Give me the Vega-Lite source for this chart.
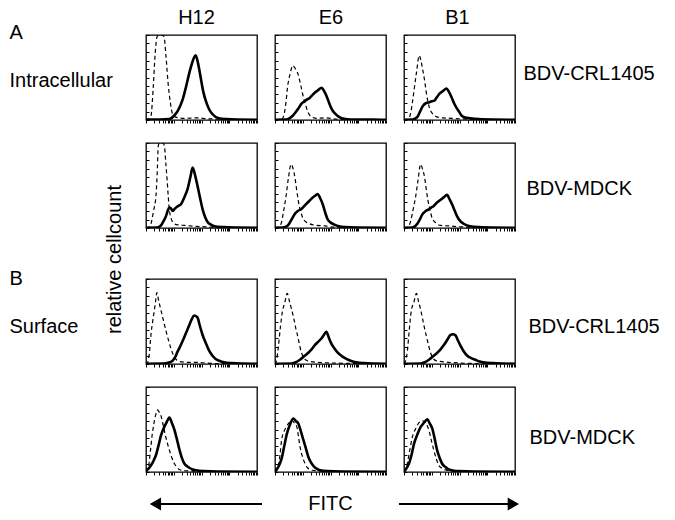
{
"$schema": "https://vega.github.io/schema/vega-lite/v6.json",
"background": "white",
"padding": {"left": 8, "top": 6, "right": 5, "bottom": 5},
"datasets": {"h": [
{"p":"a1","k":"c","x":0,"y":0},{"p":"a1","k":"c","x":0.1,"y":0.01},{"p":"a1","k":"c","x":0.18,"y":0.05},{"p":"a1","k":"c","x":0.26,"y":0.38},{"p":"a1","k":"c","x":0.33,"y":0.78},{"p":"a1","k":"c","x":0.4,"y":0.98},{"p":"a1","k":"c","x":0.45,"y":1},{"p":"a1","k":"c","x":0.55,"y":1},{"p":"a1","k":"c","x":0.65,"y":0.98},{"p":"a1","k":"c","x":0.72,"y":0.75},{"p":"a1","k":"c","x":0.8,"y":0.42},{"p":"a1","k":"c","x":0.88,"y":0.2},{"p":"a1","k":"c","x":0.96,"y":0.07},{"p":"a1","k":"c","x":1.1,"y":0.03},{"p":"a1","k":"c","x":1.4,"y":0.02},{"p":"a1","k":"c","x":1.8,"y":0.025},{"p":"a1","k":"c","x":2.2,"y":0.015},{"p":"a1","k":"c","x":2.6,"y":0.01},{"p":"a1","k":"c","x":3,"y":0.005},{"p":"a1","k":"c","x":4,"y":0.003},
{"p":"a1","k":"s","x":0,"y":0.005},{"p":"a1","k":"s","x":0.5,"y":0.005},{"p":"a1","k":"s","x":0.84,"y":0.01},{"p":"a1","k":"s","x":1.01,"y":0.05},{"p":"a1","k":"s","x":1.15,"y":0.11},{"p":"a1","k":"s","x":1.31,"y":0.23},{"p":"a1","k":"s","x":1.45,"y":0.4},{"p":"a1","k":"s","x":1.55,"y":0.54},{"p":"a1","k":"s","x":1.67,"y":0.68},{"p":"a1","k":"s","x":1.79,"y":0.76},{"p":"a1","k":"s","x":1.88,"y":0.66},{"p":"a1","k":"s","x":1.97,"y":0.5},{"p":"a1","k":"s","x":2.06,"y":0.34},{"p":"a1","k":"s","x":2.15,"y":0.23},{"p":"a1","k":"s","x":2.27,"y":0.13},{"p":"a1","k":"s","x":2.39,"y":0.07},{"p":"a1","k":"s","x":2.63,"y":0.02},{"p":"a1","k":"s","x":2.9,"y":0.01},{"p":"a1","k":"s","x":3.3,"y":0.005},{"p":"a1","k":"s","x":4,"y":0.003},
{"p":"a2","k":"c","x":0,"y":0},{"p":"a2","k":"c","x":0.25,"y":0.01},{"p":"a2","k":"c","x":0.33,"y":0.07},{"p":"a2","k":"c","x":0.4,"y":0.22},{"p":"a2","k":"c","x":0.45,"y":0.38},{"p":"a2","k":"c","x":0.55,"y":0.55},{"p":"a2","k":"c","x":0.64,"y":0.64},{"p":"a2","k":"c","x":0.74,"y":0.6},{"p":"a2","k":"c","x":0.83,"y":0.54},{"p":"a2","k":"c","x":0.92,"y":0.42},{"p":"a2","k":"c","x":1,"y":0.3},{"p":"a2","k":"c","x":1.1,"y":0.18},{"p":"a2","k":"c","x":1.19,"y":0.09},{"p":"a2","k":"c","x":1.3,"y":0.04},{"p":"a2","k":"c","x":1.5,"y":0.02},{"p":"a2","k":"c","x":1.8,"y":0.025},{"p":"a2","k":"c","x":2.2,"y":0.01},{"p":"a2","k":"c","x":2.6,"y":0.005},{"p":"a2","k":"c","x":4,"y":0.002},
{"p":"a2","k":"s","x":0,"y":0.003},{"p":"a2","k":"s","x":0.39,"y":0.005},{"p":"a2","k":"s","x":0.52,"y":0.02},{"p":"a2","k":"s","x":0.64,"y":0.05},{"p":"a2","k":"s","x":0.83,"y":0.13},{"p":"a2","k":"s","x":0.95,"y":0.19},{"p":"a2","k":"s","x":1.06,"y":0.22},{"p":"a2","k":"s","x":1.15,"y":0.24},{"p":"a2","k":"s","x":1.25,"y":0.26},{"p":"a2","k":"s","x":1.34,"y":0.29},{"p":"a2","k":"s","x":1.43,"y":0.32},{"p":"a2","k":"s","x":1.55,"y":0.35},{"p":"a2","k":"s","x":1.68,"y":0.38},{"p":"a2","k":"s","x":1.77,"y":0.34},{"p":"a2","k":"s","x":1.86,"y":0.28},{"p":"a2","k":"s","x":1.95,"y":0.2},{"p":"a2","k":"s","x":2.04,"y":0.13},{"p":"a2","k":"s","x":2.15,"y":0.08},{"p":"a2","k":"s","x":2.29,"y":0.04},{"p":"a2","k":"s","x":2.54,"y":0.012},{"p":"a2","k":"s","x":2.9,"y":0.005},{"p":"a2","k":"s","x":3.5,"y":0.004},{"p":"a2","k":"s","x":4,"y":0.003},
{"p":"a3","k":"c","x":0,"y":0},{"p":"a3","k":"c","x":0.15,"y":0.01},{"p":"a3","k":"c","x":0.24,"y":0.08},{"p":"a3","k":"c","x":0.3,"y":0.2},{"p":"a3","k":"c","x":0.37,"y":0.37},{"p":"a3","k":"c","x":0.45,"y":0.56},{"p":"a3","k":"c","x":0.55,"y":0.76},{"p":"a3","k":"c","x":0.61,"y":0.7},{"p":"a3","k":"c","x":0.67,"y":0.6},{"p":"a3","k":"c","x":0.74,"y":0.47},{"p":"a3","k":"c","x":0.8,"y":0.33},{"p":"a3","k":"c","x":0.86,"y":0.22},{"p":"a3","k":"c","x":0.92,"y":0.14},{"p":"a3","k":"c","x":1.04,"y":0.07},{"p":"a3","k":"c","x":1.16,"y":0.04},{"p":"a3","k":"c","x":1.4,"y":0.025},{"p":"a3","k":"c","x":1.7,"y":0.02},{"p":"a3","k":"c","x":2,"y":0.015},{"p":"a3","k":"c","x":2.4,"y":0.008},{"p":"a3","k":"c","x":4,"y":0.002},
{"p":"a3","k":"s","x":0,"y":0.003},{"p":"a3","k":"s","x":0.31,"y":0.005},{"p":"a3","k":"s","x":0.49,"y":0.04},{"p":"a3","k":"s","x":0.58,"y":0.1},{"p":"a3","k":"s","x":0.67,"y":0.16},{"p":"a3","k":"s","x":0.8,"y":0.2},{"p":"a3","k":"s","x":0.92,"y":0.21},{"p":"a3","k":"s","x":1.01,"y":0.22},{"p":"a3","k":"s","x":1.1,"y":0.23},{"p":"a3","k":"s","x":1.19,"y":0.27},{"p":"a3","k":"s","x":1.28,"y":0.31},{"p":"a3","k":"s","x":1.4,"y":0.34},{"p":"a3","k":"s","x":1.53,"y":0.37},{"p":"a3","k":"s","x":1.62,"y":0.33},{"p":"a3","k":"s","x":1.71,"y":0.27},{"p":"a3","k":"s","x":1.8,"y":0.2},{"p":"a3","k":"s","x":1.9,"y":0.14},{"p":"a3","k":"s","x":2,"y":0.09},{"p":"a3","k":"s","x":2.08,"y":0.05},{"p":"a3","k":"s","x":2.2,"y":0.03},{"p":"a3","k":"s","x":2.39,"y":0.02},{"p":"a3","k":"s","x":2.7,"y":0.01},{"p":"a3","k":"s","x":3.2,"y":0.005},{"p":"a3","k":"s","x":4,"y":0.003},
{"p":"b1","k":"c","x":0,"y":0},{"p":"b1","k":"c","x":0.1,"y":0.01},{"p":"b1","k":"c","x":0.18,"y":0.05},{"p":"b1","k":"c","x":0.27,"y":0.2},{"p":"b1","k":"c","x":0.36,"y":0.38},{"p":"b1","k":"c","x":0.41,"y":0.7},{"p":"b1","k":"c","x":0.44,"y":0.96},{"p":"b1","k":"c","x":0.48,"y":1},{"p":"b1","k":"c","x":0.6,"y":1},{"p":"b1","k":"c","x":0.66,"y":0.97},{"p":"b1","k":"c","x":0.71,"y":0.78},{"p":"b1","k":"c","x":0.76,"y":0.57},{"p":"b1","k":"c","x":0.8,"y":0.38},{"p":"b1","k":"c","x":0.84,"y":0.22},{"p":"b1","k":"c","x":0.9,"y":0.12},{"p":"b1","k":"c","x":0.96,"y":0.07},{"p":"b1","k":"c","x":1.1,"y":0.04},{"p":"b1","k":"c","x":1.4,"y":0.03},{"p":"b1","k":"c","x":1.8,"y":0.02},{"p":"b1","k":"c","x":2.2,"y":0.012},{"p":"b1","k":"c","x":2.6,"y":0.006},{"p":"b1","k":"c","x":4,"y":0.002},
{"p":"b1","k":"s","x":0,"y":0.003},{"p":"b1","k":"s","x":0.4,"y":0.005},{"p":"b1","k":"s","x":0.54,"y":0.03},{"p":"b1","k":"s","x":0.63,"y":0.08},{"p":"b1","k":"s","x":0.72,"y":0.14},{"p":"b1","k":"s","x":0.78,"y":0.2},{"p":"b1","k":"s","x":0.84,"y":0.24},{"p":"b1","k":"s","x":0.9,"y":0.23},{"p":"b1","k":"s","x":0.96,"y":0.2},{"p":"b1","k":"s","x":1.02,"y":0.22},{"p":"b1","k":"s","x":1.08,"y":0.24},{"p":"b1","k":"s","x":1.17,"y":0.26},{"p":"b1","k":"s","x":1.26,"y":0.28},{"p":"b1","k":"s","x":1.38,"y":0.36},{"p":"b1","k":"s","x":1.5,"y":0.46},{"p":"b1","k":"s","x":1.6,"y":0.6},{"p":"b1","k":"s","x":1.68,"y":0.71},{"p":"b1","k":"s","x":1.77,"y":0.62},{"p":"b1","k":"s","x":1.86,"y":0.49},{"p":"b1","k":"s","x":1.95,"y":0.35},{"p":"b1","k":"s","x":2.04,"y":0.22},{"p":"b1","k":"s","x":2.13,"y":0.13},{"p":"b1","k":"s","x":2.22,"y":0.07},{"p":"b1","k":"s","x":2.34,"y":0.04},{"p":"b1","k":"s","x":2.46,"y":0.02},{"p":"b1","k":"s","x":2.8,"y":0.01},{"p":"b1","k":"s","x":3.3,"y":0.005},{"p":"b1","k":"s","x":4,"y":0.003},
{"p":"b2","k":"c","x":0,"y":0},{"p":"b2","k":"c","x":0.12,"y":0.01},{"p":"b2","k":"c","x":0.22,"y":0.05},{"p":"b2","k":"c","x":0.3,"y":0.18},{"p":"b2","k":"c","x":0.4,"y":0.38},{"p":"b2","k":"c","x":0.48,"y":0.58},{"p":"b2","k":"c","x":0.58,"y":0.75},{"p":"b2","k":"c","x":0.65,"y":0.7},{"p":"b2","k":"c","x":0.72,"y":0.59},{"p":"b2","k":"c","x":0.78,"y":0.45},{"p":"b2","k":"c","x":0.84,"y":0.32},{"p":"b2","k":"c","x":0.92,"y":0.2},{"p":"b2","k":"c","x":1,"y":0.12},{"p":"b2","k":"c","x":1.12,"y":0.07},{"p":"b2","k":"c","x":1.24,"y":0.05},{"p":"b2","k":"c","x":1.5,"y":0.03},{"p":"b2","k":"c","x":1.8,"y":0.025},{"p":"b2","k":"c","x":2.1,"y":0.01},{"p":"b2","k":"c","x":2.6,"y":0.005},{"p":"b2","k":"c","x":4,"y":0.002},
{"p":"b2","k":"s","x":0,"y":0.003},{"p":"b2","k":"s","x":0.28,"y":0.005},{"p":"b2","k":"s","x":0.46,"y":0.03},{"p":"b2","k":"s","x":0.58,"y":0.09},{"p":"b2","k":"s","x":0.7,"y":0.16},{"p":"b2","k":"s","x":0.82,"y":0.2},{"p":"b2","k":"s","x":0.94,"y":0.22},{"p":"b2","k":"s","x":1.06,"y":0.26},{"p":"b2","k":"s","x":1.18,"y":0.3},{"p":"b2","k":"s","x":1.27,"y":0.33},{"p":"b2","k":"s","x":1.36,"y":0.36},{"p":"b2","k":"s","x":1.45,"y":0.38},{"p":"b2","k":"s","x":1.54,"y":0.4},{"p":"b2","k":"s","x":1.63,"y":0.35},{"p":"b2","k":"s","x":1.72,"y":0.28},{"p":"b2","k":"s","x":1.81,"y":0.18},{"p":"b2","k":"s","x":1.9,"y":0.1},{"p":"b2","k":"s","x":2.02,"y":0.06},{"p":"b2","k":"s","x":2.14,"y":0.04},{"p":"b2","k":"s","x":2.3,"y":0.02},{"p":"b2","k":"s","x":2.5,"y":0.01},{"p":"b2","k":"s","x":3,"y":0.005},{"p":"b2","k":"s","x":4,"y":0.003},
{"p":"b3","k":"c","x":0,"y":0},{"p":"b3","k":"c","x":0.14,"y":0.01},{"p":"b3","k":"c","x":0.24,"y":0.08},{"p":"b3","k":"c","x":0.33,"y":0.22},{"p":"b3","k":"c","x":0.42,"y":0.37},{"p":"b3","k":"c","x":0.5,"y":0.55},{"p":"b3","k":"c","x":0.6,"y":0.75},{"p":"b3","k":"c","x":0.67,"y":0.69},{"p":"b3","k":"c","x":0.74,"y":0.6},{"p":"b3","k":"c","x":0.8,"y":0.46},{"p":"b3","k":"c","x":0.86,"y":0.33},{"p":"b3","k":"c","x":0.94,"y":0.21},{"p":"b3","k":"c","x":1.01,"y":0.12},{"p":"b3","k":"c","x":1.15,"y":0.06},{"p":"b3","k":"c","x":1.31,"y":0.03},{"p":"b3","k":"c","x":1.6,"y":0.025},{"p":"b3","k":"c","x":2,"y":0.015},{"p":"b3","k":"c","x":2.4,"y":0.008},{"p":"b3","k":"c","x":4,"y":0.002},
{"p":"b3","k":"s","x":0,"y":0.003},{"p":"b3","k":"s","x":0.3,"y":0.005},{"p":"b3","k":"s","x":0.48,"y":0.05},{"p":"b3","k":"s","x":0.57,"y":0.1},{"p":"b3","k":"s","x":0.66,"y":0.16},{"p":"b3","k":"s","x":0.78,"y":0.2},{"p":"b3","k":"s","x":0.9,"y":0.22},{"p":"b3","k":"s","x":0.98,"y":0.24},{"p":"b3","k":"s","x":1.07,"y":0.26},{"p":"b3","k":"s","x":1.19,"y":0.3},{"p":"b3","k":"s","x":1.31,"y":0.33},{"p":"b3","k":"s","x":1.43,"y":0.36},{"p":"b3","k":"s","x":1.55,"y":0.39},{"p":"b3","k":"s","x":1.64,"y":0.34},{"p":"b3","k":"s","x":1.73,"y":0.28},{"p":"b3","k":"s","x":1.82,"y":0.21},{"p":"b3","k":"s","x":1.91,"y":0.14},{"p":"b3","k":"s","x":2.03,"y":0.08},{"p":"b3","k":"s","x":2.15,"y":0.05},{"p":"b3","k":"s","x":2.39,"y":0.02},{"p":"b3","k":"s","x":2.7,"y":0.01},{"p":"b3","k":"s","x":3.2,"y":0.005},{"p":"b3","k":"s","x":4,"y":0.003},
{"p":"c1","k":"c","x":0,"y":0},{"p":"c1","k":"c","x":0.06,"y":0.02},{"p":"c1","k":"c","x":0.12,"y":0.12},{"p":"c1","k":"c","x":0.18,"y":0.35},{"p":"c1","k":"c","x":0.24,"y":0.5},{"p":"c1","k":"c","x":0.3,"y":0.63},{"p":"c1","k":"c","x":0.35,"y":0.75},{"p":"c1","k":"c","x":0.39,"y":0.84},{"p":"c1","k":"c","x":0.46,"y":0.74},{"p":"c1","k":"c","x":0.54,"y":0.63},{"p":"c1","k":"c","x":0.63,"y":0.51},{"p":"c1","k":"c","x":0.72,"y":0.39},{"p":"c1","k":"c","x":0.81,"y":0.28},{"p":"c1","k":"c","x":0.9,"y":0.18},{"p":"c1","k":"c","x":0.98,"y":0.11},{"p":"c1","k":"c","x":1.07,"y":0.06},{"p":"c1","k":"c","x":1.2,"y":0.03},{"p":"c1","k":"c","x":1.5,"y":0.02},{"p":"c1","k":"c","x":1.8,"y":0.02},{"p":"c1","k":"c","x":2.2,"y":0.01},{"p":"c1","k":"c","x":2.6,"y":0.005},{"p":"c1","k":"c","x":4,"y":0.002},
{"p":"c1","k":"s","x":0,"y":0.003},{"p":"c1","k":"s","x":0.66,"y":0.005},{"p":"c1","k":"s","x":0.86,"y":0.02},{"p":"c1","k":"s","x":0.96,"y":0.04},{"p":"c1","k":"s","x":1.05,"y":0.08},{"p":"c1","k":"s","x":1.13,"y":0.14},{"p":"c1","k":"s","x":1.25,"y":0.22},{"p":"c1","k":"s","x":1.37,"y":0.31},{"p":"c1","k":"s","x":1.46,"y":0.38},{"p":"c1","k":"s","x":1.55,"y":0.45},{"p":"c1","k":"s","x":1.64,"y":0.52},{"p":"c1","k":"s","x":1.73,"y":0.57},{"p":"c1","k":"s","x":1.85,"y":0.55},{"p":"c1","k":"s","x":1.94,"y":0.45},{"p":"c1","k":"s","x":2.03,"y":0.35},{"p":"c1","k":"s","x":2.15,"y":0.25},{"p":"c1","k":"s","x":2.27,"y":0.16},{"p":"c1","k":"s","x":2.39,"y":0.1},{"p":"c1","k":"s","x":2.51,"y":0.06},{"p":"c1","k":"s","x":2.66,"y":0.035},{"p":"c1","k":"s","x":2.81,"y":0.02},{"p":"c1","k":"s","x":3.1,"y":0.01},{"p":"c1","k":"s","x":3.5,"y":0.005},{"p":"c1","k":"s","x":4,"y":0.003},
{"p":"c2","k":"c","x":0,"y":0},{"p":"c2","k":"c","x":0.06,"y":0.05},{"p":"c2","k":"c","x":0.12,"y":0.2},{"p":"c2","k":"c","x":0.2,"y":0.45},{"p":"c2","k":"c","x":0.27,"y":0.62},{"p":"c2","k":"c","x":0.35,"y":0.72},{"p":"c2","k":"c","x":0.44,"y":0.83},{"p":"c2","k":"c","x":0.52,"y":0.74},{"p":"c2","k":"c","x":0.6,"y":0.64},{"p":"c2","k":"c","x":0.68,"y":0.53},{"p":"c2","k":"c","x":0.75,"y":0.42},{"p":"c2","k":"c","x":0.83,"y":0.31},{"p":"c2","k":"c","x":0.9,"y":0.2},{"p":"c2","k":"c","x":0.97,"y":0.12},{"p":"c2","k":"c","x":1.04,"y":0.07},{"p":"c2","k":"c","x":1.15,"y":0.04},{"p":"c2","k":"c","x":1.25,"y":0.03},{"p":"c2","k":"c","x":1.5,"y":0.02},{"p":"c2","k":"c","x":1.8,"y":0.015},{"p":"c2","k":"c","x":2.2,"y":0.01},{"p":"c2","k":"c","x":4,"y":0.002},
{"p":"c2","k":"s","x":0,"y":0.003},{"p":"c2","k":"s","x":0.6,"y":0.005},{"p":"c2","k":"s","x":0.75,"y":0.02},{"p":"c2","k":"s","x":0.9,"y":0.05},{"p":"c2","k":"s","x":1.05,"y":0.09},{"p":"c2","k":"s","x":1.19,"y":0.13},{"p":"c2","k":"s","x":1.31,"y":0.17},{"p":"c2","k":"s","x":1.43,"y":0.22},{"p":"c2","k":"s","x":1.55,"y":0.26},{"p":"c2","k":"s","x":1.67,"y":0.3},{"p":"c2","k":"s","x":1.76,"y":0.34},{"p":"c2","k":"s","x":1.85,"y":0.38},{"p":"c2","k":"s","x":1.94,"y":0.31},{"p":"c2","k":"s","x":2.03,"y":0.24},{"p":"c2","k":"s","x":2.15,"y":0.18},{"p":"c2","k":"s","x":2.27,"y":0.13},{"p":"c2","k":"s","x":2.42,"y":0.09},{"p":"c2","k":"s","x":2.57,"y":0.06},{"p":"c2","k":"s","x":2.75,"y":0.035},{"p":"c2","k":"s","x":2.93,"y":0.02},{"p":"c2","k":"s","x":3.2,"y":0.01},{"p":"c2","k":"s","x":3.6,"y":0.005},{"p":"c2","k":"s","x":4,"y":0.003},
{"p":"c3","k":"c","x":0,"y":0},{"p":"c3","k":"c","x":0.06,"y":0.04},{"p":"c3","k":"c","x":0.12,"y":0.15},{"p":"c3","k":"c","x":0.19,"y":0.4},{"p":"c3","k":"c","x":0.26,"y":0.62},{"p":"c3","k":"c","x":0.35,"y":0.72},{"p":"c3","k":"c","x":0.45,"y":0.83},{"p":"c3","k":"c","x":0.52,"y":0.74},{"p":"c3","k":"c","x":0.6,"y":0.64},{"p":"c3","k":"c","x":0.67,"y":0.53},{"p":"c3","k":"c","x":0.74,"y":0.42},{"p":"c3","k":"c","x":0.82,"y":0.31},{"p":"c3","k":"c","x":0.9,"y":0.2},{"p":"c3","k":"c","x":0.97,"y":0.12},{"p":"c3","k":"c","x":1.04,"y":0.07},{"p":"c3","k":"c","x":1.15,"y":0.04},{"p":"c3","k":"c","x":1.3,"y":0.03},{"p":"c3","k":"c","x":1.6,"y":0.02},{"p":"c3","k":"c","x":2,"y":0.012},{"p":"c3","k":"c","x":2.5,"y":0.006},{"p":"c3","k":"c","x":4,"y":0.002},
{"p":"c3","k":"s","x":0,"y":0.003},{"p":"c3","k":"s","x":0.6,"y":0.005},{"p":"c3","k":"s","x":0.75,"y":0.02},{"p":"c3","k":"s","x":0.9,"y":0.05},{"p":"c3","k":"s","x":1.05,"y":0.09},{"p":"c3","k":"s","x":1.19,"y":0.13},{"p":"c3","k":"s","x":1.31,"y":0.17},{"p":"c3","k":"s","x":1.43,"y":0.22},{"p":"c3","k":"s","x":1.55,"y":0.28},{"p":"c3","k":"s","x":1.67,"y":0.34},{"p":"c3","k":"s","x":1.76,"y":0.35},{"p":"c3","k":"s","x":1.85,"y":0.34},{"p":"c3","k":"s","x":1.94,"y":0.28},{"p":"c3","k":"s","x":2.03,"y":0.22},{"p":"c3","k":"s","x":2.15,"y":0.15},{"p":"c3","k":"s","x":2.27,"y":0.1},{"p":"c3","k":"s","x":2.42,"y":0.07},{"p":"c3","k":"s","x":2.57,"y":0.05},{"p":"c3","k":"s","x":2.72,"y":0.03},{"p":"c3","k":"s","x":2.87,"y":0.02},{"p":"c3","k":"s","x":3.2,"y":0.01},{"p":"c3","k":"s","x":3.6,"y":0.005},{"p":"c3","k":"s","x":4,"y":0.003},
{"p":"d1","k":"c","x":0,"y":0},{"p":"d1","k":"c","x":0.05,"y":0.02},{"p":"d1","k":"c","x":0.1,"y":0.08},{"p":"d1","k":"c","x":0.16,"y":0.25},{"p":"d1","k":"c","x":0.22,"y":0.43},{"p":"d1","k":"c","x":0.28,"y":0.56},{"p":"d1","k":"c","x":0.34,"y":0.66},{"p":"d1","k":"c","x":0.42,"y":0.73},{"p":"d1","k":"c","x":0.48,"y":0.7},{"p":"d1","k":"c","x":0.54,"y":0.66},{"p":"d1","k":"c","x":0.62,"y":0.55},{"p":"d1","k":"c","x":0.7,"y":0.43},{"p":"d1","k":"c","x":0.77,"y":0.34},{"p":"d1","k":"c","x":0.84,"y":0.26},{"p":"d1","k":"c","x":0.93,"y":0.17},{"p":"d1","k":"c","x":1.02,"y":0.1},{"p":"d1","k":"c","x":1.11,"y":0.06},{"p":"d1","k":"c","x":1.2,"y":0.03},{"p":"d1","k":"c","x":1.4,"y":0.015},{"p":"d1","k":"c","x":1.8,"y":0.01},{"p":"d1","k":"c","x":2.5,"y":0.005},{"p":"d1","k":"c","x":4,"y":0.002},
{"p":"d1","k":"s","x":0,"y":0.005},{"p":"d1","k":"s","x":0.06,"y":0.03},{"p":"d1","k":"s","x":0.12,"y":0.05},{"p":"d1","k":"s","x":0.18,"y":0.08},{"p":"d1","k":"s","x":0.27,"y":0.13},{"p":"d1","k":"s","x":0.36,"y":0.2},{"p":"d1","k":"s","x":0.45,"y":0.31},{"p":"d1","k":"s","x":0.54,"y":0.43},{"p":"d1","k":"s","x":0.63,"y":0.51},{"p":"d1","k":"s","x":0.72,"y":0.57},{"p":"d1","k":"s","x":0.78,"y":0.61},{"p":"d1","k":"s","x":0.84,"y":0.64},{"p":"d1","k":"s","x":0.93,"y":0.58},{"p":"d1","k":"s","x":1.02,"y":0.5},{"p":"d1","k":"s","x":1.11,"y":0.39},{"p":"d1","k":"s","x":1.2,"y":0.27},{"p":"d1","k":"s","x":1.29,"y":0.17},{"p":"d1","k":"s","x":1.38,"y":0.1},{"p":"d1","k":"s","x":1.47,"y":0.07},{"p":"d1","k":"s","x":1.56,"y":0.05},{"p":"d1","k":"s","x":1.68,"y":0.03},{"p":"d1","k":"s","x":1.8,"y":0.02},{"p":"d1","k":"s","x":2.1,"y":0.01},{"p":"d1","k":"s","x":2.6,"y":0.005},{"p":"d1","k":"s","x":4,"y":0.003},
{"p":"d2","k":"c","x":0,"y":0},{"p":"d2","k":"c","x":0.06,"y":0.02},{"p":"d2","k":"c","x":0.12,"y":0.07},{"p":"d2","k":"c","x":0.18,"y":0.2},{"p":"d2","k":"c","x":0.24,"y":0.38},{"p":"d2","k":"c","x":0.33,"y":0.48},{"p":"d2","k":"c","x":0.42,"y":0.54},{"p":"d2","k":"c","x":0.51,"y":0.58},{"p":"d2","k":"c","x":0.6,"y":0.61},{"p":"d2","k":"c","x":0.69,"y":0.58},{"p":"d2","k":"c","x":0.78,"y":0.54},{"p":"d2","k":"c","x":0.84,"y":0.43},{"p":"d2","k":"c","x":0.9,"y":0.3},{"p":"d2","k":"c","x":0.99,"y":0.18},{"p":"d2","k":"c","x":1.08,"y":0.1},{"p":"d2","k":"c","x":1.17,"y":0.05},{"p":"d2","k":"c","x":1.27,"y":0.03},{"p":"d2","k":"c","x":1.5,"y":0.015},{"p":"d2","k":"c","x":2,"y":0.008},{"p":"d2","k":"c","x":4,"y":0.002},
{"p":"d2","k":"s","x":0,"y":0.005},{"p":"d2","k":"s","x":0.06,"y":0.03},{"p":"d2","k":"s","x":0.15,"y":0.08},{"p":"d2","k":"s","x":0.24,"y":0.16},{"p":"d2","k":"s","x":0.33,"y":0.3},{"p":"d2","k":"s","x":0.42,"y":0.44},{"p":"d2","k":"s","x":0.54,"y":0.56},{"p":"d2","k":"s","x":0.66,"y":0.63},{"p":"d2","k":"s","x":0.75,"y":0.6},{"p":"d2","k":"s","x":0.84,"y":0.57},{"p":"d2","k":"s","x":0.93,"y":0.48},{"p":"d2","k":"s","x":1.02,"y":0.38},{"p":"d2","k":"s","x":1.11,"y":0.28},{"p":"d2","k":"s","x":1.2,"y":0.18},{"p":"d2","k":"s","x":1.3,"y":0.11},{"p":"d2","k":"s","x":1.39,"y":0.07},{"p":"d2","k":"s","x":1.5,"y":0.04},{"p":"d2","k":"s","x":1.63,"y":0.02},{"p":"d2","k":"s","x":1.9,"y":0.01},{"p":"d2","k":"s","x":2.4,"y":0.005},{"p":"d2","k":"s","x":4,"y":0.003},
{"p":"d3","k":"c","x":0,"y":0},{"p":"d3","k":"c","x":0.06,"y":0.03},{"p":"d3","k":"c","x":0.12,"y":0.1},{"p":"d3","k":"c","x":0.21,"y":0.26},{"p":"d3","k":"c","x":0.3,"y":0.41},{"p":"d3","k":"c","x":0.42,"y":0.51},{"p":"d3","k":"c","x":0.54,"y":0.58},{"p":"d3","k":"c","x":0.63,"y":0.6},{"p":"d3","k":"c","x":0.72,"y":0.6},{"p":"d3","k":"c","x":0.81,"y":0.56},{"p":"d3","k":"c","x":0.9,"y":0.49},{"p":"d3","k":"c","x":0.98,"y":0.38},{"p":"d3","k":"c","x":1.07,"y":0.26},{"p":"d3","k":"c","x":1.16,"y":0.16},{"p":"d3","k":"c","x":1.25,"y":0.08},{"p":"d3","k":"c","x":1.34,"y":0.05},{"p":"d3","k":"c","x":1.43,"y":0.03},{"p":"d3","k":"c","x":1.7,"y":0.015},{"p":"d3","k":"c","x":2.2,"y":0.008},{"p":"d3","k":"c","x":4,"y":0.002},
{"p":"d3","k":"s","x":0,"y":0.005},{"p":"d3","k":"s","x":0.06,"y":0.03},{"p":"d3","k":"s","x":0.12,"y":0.06},{"p":"d3","k":"s","x":0.18,"y":0.1},{"p":"d3","k":"s","x":0.27,"y":0.2},{"p":"d3","k":"s","x":0.36,"y":0.33},{"p":"d3","k":"s","x":0.48,"y":0.44},{"p":"d3","k":"s","x":0.6,"y":0.53},{"p":"d3","k":"s","x":0.72,"y":0.58},{"p":"d3","k":"s","x":0.84,"y":0.62},{"p":"d3","k":"s","x":0.93,"y":0.57},{"p":"d3","k":"s","x":1.02,"y":0.51},{"p":"d3","k":"s","x":1.1,"y":0.4},{"p":"d3","k":"s","x":1.19,"y":0.26},{"p":"d3","k":"s","x":1.28,"y":0.17},{"p":"d3","k":"s","x":1.37,"y":0.1},{"p":"d3","k":"s","x":1.49,"y":0.06},{"p":"d3","k":"s","x":1.61,"y":0.03},{"p":"d3","k":"s","x":1.8,"y":0.015},{"p":"d3","k":"s","x":1.97,"y":0.01},{"p":"d3","k":"s","x":2.5,"y":0.005},{"p":"d3","k":"s","x":4,"y":0.003}
]},
"data": {"name": "h"},
"columns": 3,
"bounds": "flush",
"spacing": {"row": 23, "column": 18},
"concat": [
{"width":111,"height":85,"transform":[{"filter":"datum.p=='a1'"}],
 "encoding":{"x":{"field":"x","type":"quantitative","scale":{"domain":[0,4]},"axis":{"title":"H12","titleY":-97,"titleX":50,"titleBaseline":"alphabetic","values":[0,0.301,0.477,0.602,0.699,0.778,0.845,0.903,0.954,1,1.301,1.477,1.602,1.699,1.778,1.845,1.903,1.954,2,2.301,2.477,2.602,2.699,2.778,2.845,2.903,2.954,3,3.301,3.477,3.602,3.699,3.778,3.845,3.903,3.954,4]}},
  "y":{"field":"y","type":"quantitative","scale":{"domain":[0,1]},"axis":{"title":["A","Intracellular"],"titleAngle":0,"titleAlign":"left","titleBaseline":"alphabetic","titleX":-137,"titleY":3,"titleLineHeight":48}}},
 "layer":[
  {"transform":[{"filter":"datum.k=='c'"}],"mark":{"type":"line","color":"black","strokeWidth":1.2,"strokeDash":[4,3],"interpolate":"monotone","clip":true},"encoding":{}},
  {"transform":[{"filter":"datum.k=='s'"}],"mark":{"type":"line","color":"black","strokeWidth":2.6,"interpolate":"monotone","clip":true},"encoding":{}}]},
{"width":111,"height":85,"transform":[{"filter":"datum.p=='a2'"}],
 "encoding":{"x":{"field":"x","type":"quantitative","scale":{"domain":[0,4]},"axis":{"title":"E6","titleY":-97,"titleBaseline":"alphabetic","values":[0,0.301,0.477,0.602,0.699,0.778,0.845,0.903,0.954,1,1.301,1.477,1.602,1.699,1.778,1.845,1.903,1.954,2,2.301,2.477,2.602,2.699,2.778,2.845,2.903,2.954,3,3.301,3.477,3.602,3.699,3.778,3.845,3.903,3.954,4]}},
  "y":{"field":"y","type":"quantitative","scale":{"domain":[0,1]},"axis":{"title":null}}},
 "layer":[
  {"transform":[{"filter":"datum.k=='c'"}],"mark":{"type":"line","color":"black","strokeWidth":1.2,"strokeDash":[4,3],"interpolate":"monotone","clip":true},"encoding":{}},
  {"transform":[{"filter":"datum.k=='s'"}],"mark":{"type":"line","color":"black","strokeWidth":2.6,"interpolate":"monotone","clip":true},"encoding":{}}]},
{"width":111,"height":85,"transform":[{"filter":"datum.p=='a3'"}],
 "resolve":{"axis":{"y":"independent"}},
 "encoding":{"x":{"field":"x","type":"quantitative","scale":{"domain":[0,4]},"axis":{"title":"B1","titleY":-97,"titleX":53,"titleBaseline":"alphabetic","values":[0,0.301,0.477,0.602,0.699,0.778,0.845,0.903,0.954,1,1.301,1.477,1.602,1.699,1.778,1.845,1.903,1.954,2,2.301,2.477,2.602,2.699,2.778,2.845,2.903,2.954,3,3.301,3.477,3.602,3.699,3.778,3.845,3.903,3.954,4]}},
  "y":{"field":"y","type":"quantitative","scale":{"domain":[0,1]},"axis":{"title":null}}},
 "layer":[
  {"transform":[{"filter":"datum.k=='c'"}],"mark":{"type":"line","color":"black","strokeWidth":1.2,"strokeDash":[4,3],"interpolate":"monotone","clip":true},"encoding":{}},
  {"transform":[{"filter":"datum.k=='s'"}],"mark":{"type":"line","color":"black","strokeWidth":2.6,"interpolate":"monotone","clip":true},"encoding":{"y":{"field":"y","type":"quantitative","scale":{"domain":[0,1]},"axis":{"orient":"right","ticks":false,"title":"BDV-CRL1405","titleAngle":0,"titleAlign":"left","titleBaseline":"middle","titleX":8,"titleY":38}}}}]},
{"width":111,"height":85,"transform":[{"filter":"datum.p=='b1'"}],
 "encoding":{"x":{"field":"x","type":"quantitative","scale":{"domain":[0,4]},"axis":{"title":null,"values":[0,0.301,0.477,0.602,0.699,0.778,0.845,0.903,0.954,1,1.301,1.477,1.602,1.699,1.778,1.845,1.903,1.954,2,2.301,2.477,2.602,2.699,2.778,2.845,2.903,2.954,3,3.301,3.477,3.602,3.699,3.778,3.845,3.903,3.954,4]}},
  "y":{"field":"y","type":"quantitative","scale":{"domain":[0,1]},"axis":{"title":"relative cellcount","titleX":-22,"titleY":116}}},
 "layer":[
  {"transform":[{"filter":"datum.k=='c'"}],"mark":{"type":"line","color":"black","strokeWidth":1.2,"strokeDash":[4,3],"interpolate":"monotone","clip":true},"encoding":{}},
  {"transform":[{"filter":"datum.k=='s'"}],"mark":{"type":"line","color":"black","strokeWidth":2.6,"interpolate":"monotone","clip":true},"encoding":{}}]},
{"width":111,"height":85,"transform":[{"filter":"datum.p=='b2'"}],
 "encoding":{"x":{"field":"x","type":"quantitative","scale":{"domain":[0,4]},"axis":{"title":null,"values":[0,0.301,0.477,0.602,0.699,0.778,0.845,0.903,0.954,1,1.301,1.477,1.602,1.699,1.778,1.845,1.903,1.954,2,2.301,2.477,2.602,2.699,2.778,2.845,2.903,2.954,3,3.301,3.477,3.602,3.699,3.778,3.845,3.903,3.954,4]}},
  "y":{"field":"y","type":"quantitative","scale":{"domain":[0,1]},"axis":{"title":null}}},
 "layer":[
  {"transform":[{"filter":"datum.k=='c'"}],"mark":{"type":"line","color":"black","strokeWidth":1.2,"strokeDash":[4,3],"interpolate":"monotone","clip":true},"encoding":{}},
  {"transform":[{"filter":"datum.k=='s'"}],"mark":{"type":"line","color":"black","strokeWidth":2.6,"interpolate":"monotone","clip":true},"encoding":{}}]},
{"width":111,"height":85,"transform":[{"filter":"datum.p=='b3'"}],
 "resolve":{"axis":{"y":"independent"}},
 "encoding":{"x":{"field":"x","type":"quantitative","scale":{"domain":[0,4]},"axis":{"title":null,"values":[0,0.301,0.477,0.602,0.699,0.778,0.845,0.903,0.954,1,1.301,1.477,1.602,1.699,1.778,1.845,1.903,1.954,2,2.301,2.477,2.602,2.699,2.778,2.845,2.903,2.954,3,3.301,3.477,3.602,3.699,3.778,3.845,3.903,3.954,4]}},
  "y":{"field":"y","type":"quantitative","scale":{"domain":[0,1]},"axis":{"title":null}}},
 "layer":[
  {"transform":[{"filter":"datum.k=='c'"}],"mark":{"type":"line","color":"black","strokeWidth":1.2,"strokeDash":[4,3],"interpolate":"monotone","clip":true},"encoding":{}},
  {"transform":[{"filter":"datum.k=='s'"}],"mark":{"type":"line","color":"black","strokeWidth":2.6,"interpolate":"monotone","clip":true},"encoding":{"y":{"field":"y","type":"quantitative","scale":{"domain":[0,1]},"axis":{"orient":"right","ticks":false,"title":"BDV-MDCK","titleAngle":0,"titleAlign":"left","titleBaseline":"middle","titleX":11,"titleY":45}}}}]},
{"width":111,"height":5,"view":{"stroke":null},"data":{"values":[]},"mark":{"type":"rule"},"encoding":{}},
{"width":111,"height":5,"view":{"stroke":null},"data":{"values":[]},"mark":{"type":"rule"},"encoding":{}},
{"width":111,"height":5,"view":{"stroke":null},"data":{"values":[]},"mark":{"type":"rule"},"encoding":{}},
{"width":111,"height":85,"transform":[{"filter":"datum.p=='c1'"}],
 "encoding":{"x":{"field":"x","type":"quantitative","scale":{"domain":[0,4]},"axis":{"title":null,"values":[0,0.301,0.477,0.602,0.699,0.778,0.845,0.903,0.954,1,1.301,1.477,1.602,1.699,1.778,1.845,1.903,1.954,2,2.301,2.477,2.602,2.699,2.778,2.845,2.903,2.954,3,3.301,3.477,3.602,3.699,3.778,3.845,3.903,3.954,4]}},
  "y":{"field":"y","type":"quantitative","scale":{"domain":[0,1]},"axis":{"title":["B","Surface"],"titleAngle":0,"titleAlign":"left","titleBaseline":"alphabetic","titleX":-137,"titleY":5,"titleLineHeight":48}}},
 "layer":[
  {"transform":[{"filter":"datum.k=='c'"}],"mark":{"type":"line","color":"black","strokeWidth":1.2,"strokeDash":[4,3],"interpolate":"monotone","clip":true},"encoding":{}},
  {"transform":[{"filter":"datum.k=='s'"}],"mark":{"type":"line","color":"black","strokeWidth":2.6,"interpolate":"monotone","clip":true},"encoding":{}}]},
{"width":111,"height":85,"transform":[{"filter":"datum.p=='c2'"}],
 "encoding":{"x":{"field":"x","type":"quantitative","scale":{"domain":[0,4]},"axis":{"title":null,"values":[0,0.301,0.477,0.602,0.699,0.778,0.845,0.903,0.954,1,1.301,1.477,1.602,1.699,1.778,1.845,1.903,1.954,2,2.301,2.477,2.602,2.699,2.778,2.845,2.903,2.954,3,3.301,3.477,3.602,3.699,3.778,3.845,3.903,3.954,4]}},
  "y":{"field":"y","type":"quantitative","scale":{"domain":[0,1]},"axis":{"title":null}}},
 "layer":[
  {"transform":[{"filter":"datum.k=='c'"}],"mark":{"type":"line","color":"black","strokeWidth":1.2,"strokeDash":[4,3],"interpolate":"monotone","clip":true},"encoding":{}},
  {"transform":[{"filter":"datum.k=='s'"}],"mark":{"type":"line","color":"black","strokeWidth":2.6,"interpolate":"monotone","clip":true},"encoding":{}}]},
{"width":111,"height":85,"transform":[{"filter":"datum.p=='c3'"}],
 "resolve":{"axis":{"y":"independent"}},
 "encoding":{"x":{"field":"x","type":"quantitative","scale":{"domain":[0,4]},"axis":{"title":null,"values":[0,0.301,0.477,0.602,0.699,0.778,0.845,0.903,0.954,1,1.301,1.477,1.602,1.699,1.778,1.845,1.903,1.954,2,2.301,2.477,2.602,2.699,2.778,2.845,2.903,2.954,3,3.301,3.477,3.602,3.699,3.778,3.845,3.903,3.954,4]}},
  "y":{"field":"y","type":"quantitative","scale":{"domain":[0,1]},"axis":{"title":null}}},
 "layer":[
  {"transform":[{"filter":"datum.k=='c'"}],"mark":{"type":"line","color":"black","strokeWidth":1.2,"strokeDash":[4,3],"interpolate":"monotone","clip":true},"encoding":{}},
  {"transform":[{"filter":"datum.k=='s'"}],"mark":{"type":"line","color":"black","strokeWidth":2.6,"interpolate":"monotone","clip":true},"encoding":{"y":{"field":"y","type":"quantitative","scale":{"domain":[0,1]},"axis":{"orient":"right","ticks":false,"title":"BDV-CRL1405","titleAngle":0,"titleAlign":"left","titleBaseline":"middle","titleX":13,"titleY":47}}}}]},
{"width":111,"height":85,"transform":[{"filter":"datum.p=='d1'"}],
 "encoding":{"x":{"field":"x","type":"quantitative","scale":{"domain":[0,4]},"axis":{"title":null,"values":[0,0.301,0.477,0.602,0.699,0.778,0.845,0.903,0.954,1,1.301,1.477,1.602,1.699,1.778,1.845,1.903,1.954,2,2.301,2.477,2.602,2.699,2.778,2.845,2.903,2.954,3,3.301,3.477,3.602,3.699,3.778,3.845,3.903,3.954,4]}},
  "y":{"field":"y","type":"quantitative","scale":{"domain":[0,1]},"axis":{"title":null}}},
 "layer":[
  {"transform":[{"filter":"datum.k=='c'"}],"mark":{"type":"line","color":"black","strokeWidth":1.2,"strokeDash":[4,3],"interpolate":"monotone","clip":true},"encoding":{}},
  {"transform":[{"filter":"datum.k=='s'"}],"mark":{"type":"line","color":"black","strokeWidth":2.6,"interpolate":"monotone","clip":true},"encoding":{}}]},
{"width":111,"height":85,"transform":[{"filter":"datum.p=='d2'"}],
 "encoding":{"x":{"field":"x","type":"quantitative","scale":{"domain":[0,4]},"axis":{"title":null,"values":[0,0.301,0.477,0.602,0.699,0.778,0.845,0.903,0.954,1,1.301,1.477,1.602,1.699,1.778,1.845,1.903,1.954,2,2.301,2.477,2.602,2.699,2.778,2.845,2.903,2.954,3,3.301,3.477,3.602,3.699,3.778,3.845,3.903,3.954,4]}},
  "y":{"field":"y","type":"quantitative","scale":{"domain":[0,1]},"axis":{"title":null}}},
 "layer":[
  {"transform":[{"filter":"datum.k=='c'"}],"mark":{"type":"line","color":"black","strokeWidth":1.2,"strokeDash":[4,3],"interpolate":"monotone","clip":true},"encoding":{}},
  {"transform":[{"filter":"datum.k=='s'"}],"mark":{"type":"line","color":"black","strokeWidth":2.6,"interpolate":"monotone","clip":true},"encoding":{}}]},
{"width":111,"height":85,"transform":[{"filter":"datum.p=='d3'"}],
 "resolve":{"axis":{"y":"independent"}},
 "encoding":{"x":{"field":"x","type":"quantitative","scale":{"domain":[0,4]},"axis":{"title":null,"values":[0,0.301,0.477,0.602,0.699,0.778,0.845,0.903,0.954,1,1.301,1.477,1.602,1.699,1.778,1.845,1.903,1.954,2,2.301,2.477,2.602,2.699,2.778,2.845,2.903,2.954,3,3.301,3.477,3.602,3.699,3.778,3.845,3.903,3.954,4]}},
  "y":{"field":"y","type":"quantitative","scale":{"domain":[0,1]},"axis":{"title":null}}},
 "layer":[
  {"transform":[{"filter":"datum.k=='c'"}],"mark":{"type":"line","color":"black","strokeWidth":1.2,"strokeDash":[4,3],"interpolate":"monotone","clip":true},"encoding":{}},
  {"transform":[{"filter":"datum.k=='s'"}],"mark":{"type":"line","color":"black","strokeWidth":2.6,"interpolate":"monotone","clip":true},"encoding":{"y":{"field":"y","type":"quantitative","scale":{"domain":[0,1]},"axis":{"orient":"right","ticks":false,"title":"BDV-MDCK","titleAngle":0,"titleAlign":"left","titleBaseline":"middle","titleX":14,"titleY":50}}}}]},
{"width":111,"height":18,"view":{"stroke":null},"data":{"values":[{"t":"FITC"}]},
 "layer":[
  {"mark":{"type":"rule","color":"black","strokeWidth":2},"encoding":{"x":{"datum":0.085,"type":"quantitative","scale":{"domain":[0,1]},"axis":null},"x2":{"datum":1.045},"y":{"datum":0.5,"type":"quantitative","scale":{"domain":[0,1]},"axis":null}}},
  {"mark":{"type":"point","shape":"triangle-left","filled":true,"size":170,"color":"black","opacity":1},"encoding":{"x":{"datum":0.085,"type":"quantitative","scale":{"domain":[0,1]},"axis":null},"y":{"datum":0.5,"type":"quantitative","scale":{"domain":[0,1]},"axis":null}}}]},
{"width":111,"height":18,"view":{"stroke":null},"data":{"values":[{"t":"FITC"}]},
 "mark":{"type":"text","fontSize":20,"align":"center","baseline":"middle","color":"black"},
 "encoding":{"text":{"field":"t"},"x":{"datum":0.5,"type":"quantitative","scale":{"domain":[0,1]},"axis":null},"y":{"datum":0.5,"type":"quantitative","scale":{"domain":[0,1]},"axis":null}}},
{"width":111,"height":18,"view":{"stroke":null},"data":{"values":[{"t":"FITC"}]},
 "layer":[
  {"mark":{"type":"rule","color":"black","strokeWidth":2},"encoding":{"x":{"datum":-0.045,"type":"quantitative","scale":{"domain":[0,1]},"axis":null},"x2":{"datum":0.985},"y":{"datum":0.5,"type":"quantitative","scale":{"domain":[0,1]},"axis":null}}},
  {"mark":{"type":"point","shape":"triangle-right","filled":true,"size":170,"color":"black","opacity":1},"encoding":{"x":{"datum":0.985,"type":"quantitative","scale":{"domain":[0,1]},"axis":null},"y":{"datum":0.5,"type":"quantitative","scale":{"domain":[0,1]},"axis":null}}}]}
],
"config": {
  "view": {"stroke": "black", "strokeWidth": 1.3},
  "font": "Liberation Sans",
  "axis": {"domain": false, "labels": false, "grid": false, "ticks": true, "tickColor": "black", "tickWidth": 1, "titleFont": "Liberation Sans", "titleFontSize": 20, "titleFontWeight": "normal", "titleColor": "black"},
  "axisX": {"tickSize": 3},
  "axisY": {"tickSize": -3, "tickCount": 11},
  "title": {"font": "Liberation Sans", "fontSize": 20, "fontWeight": "normal", "color": "black"},
  "text": {"font": "Liberation Sans", "fontSize": 20}
}
}
